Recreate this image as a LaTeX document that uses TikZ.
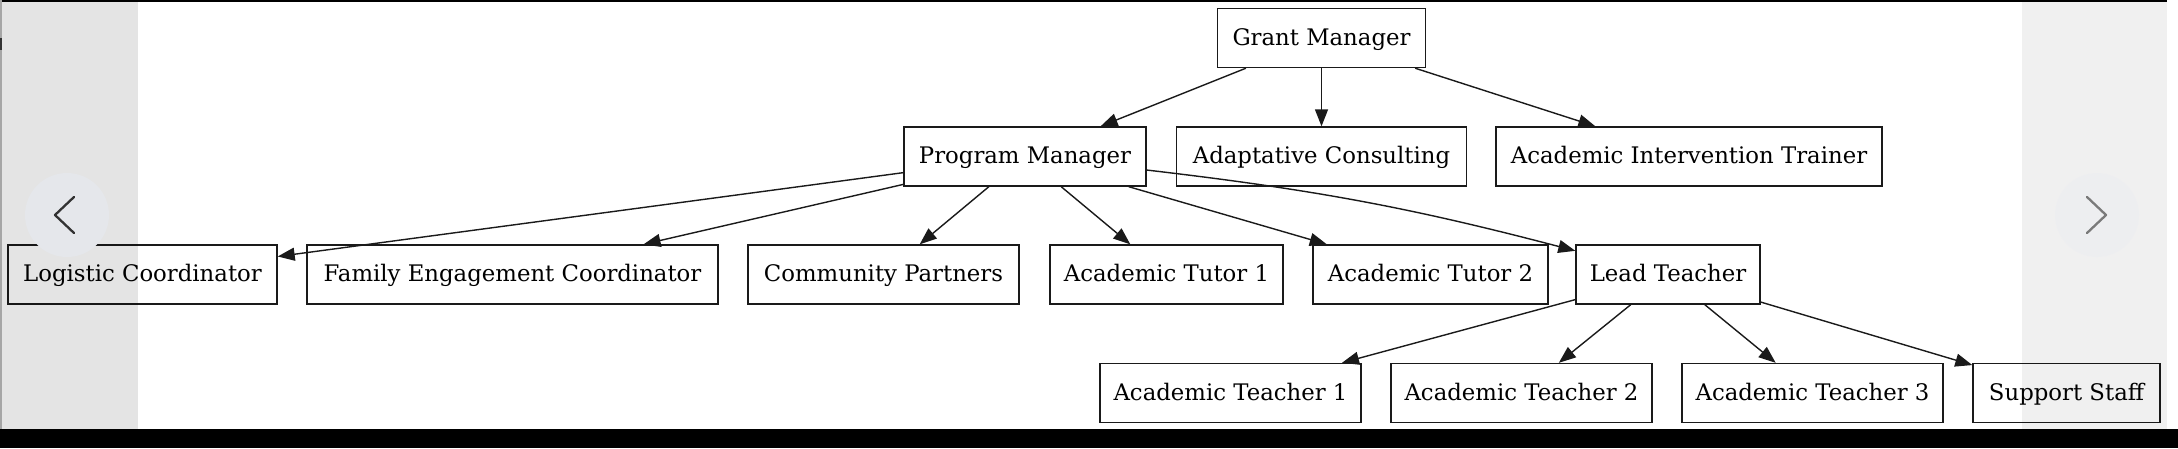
\documentclass[tikz,border=0pt]{standalone}
\usepackage{fontspec}
\setmainfont{DejaVu Serif}
\usetikzlibrary{arrows.meta}
\definecolor{edgecol}{HTML}{1A1A1A}
\definecolor{leftcirc}{HTML}{E5E7EB}
\definecolor{rightcirc}{HTML}{EDEEF0}
\definecolor{chevdark}{HTML}{333333}
\definecolor{chevlight}{HTML}{7A7A7A}
\tikzset{
  orgbox/.style={draw=edgecol, line width=1.4pt, fill=white, inner sep=0pt,
    minimum height=59pt, text height=18pt, text depth=4pt,
    font=\fontsize{22.8}{26}\selectfont, text=black},
  link/.style={draw=edgecol, line width=1.4pt, -{Triangle[length=17pt,width=13pt]}},
  chev/.style={line width=2.3pt, line cap=round, line join=round}
}
\begin{document}
\begin{tikzpicture}[x=1pt,y=-1pt]
\useasboundingbox (0,0) rectangle (2178,448);
\fill[white] (0,0) rectangle (2178,448);
% row 1
\node[orgbox, minimum width=208pt] (gm) at (1321.5,38) {Grant Manager};
% row 2
\node[orgbox, minimum width=242pt] (pm) at (1025,156.5) {Program Manager};
\node[orgbox, minimum width=290pt] (ac) at (1321.5,156.5) {Adaptative Consulting};
\node[orgbox, minimum width=386pt] (ait) at (1689,156.5) {Academic Intervention Trainer};
% row 3
\node[orgbox, minimum width=269pt] (lc) at (142.5,274.5) {Logistic Coordinator};
\node[orgbox, minimum width=411pt] (fec) at (512.5,274.5) {Family Engagement Coordinator};
\node[orgbox, minimum width=271pt] (cp) at (883.5,274.5) {Community Partners};
\node[orgbox, minimum width=233pt] (at1) at (1166.5,274.5) {Academic Tutor 1};
\node[orgbox, minimum width=235pt] (at2) at (1430.5,274.5) {Academic Tutor 2};
\node[orgbox, minimum width=184pt] (lt) at (1668,274.5) {Lead Teacher};
% row 4
\node[orgbox, minimum width=261pt] (ac1) at (1230.5,393) {Academic Teacher 1};
\node[orgbox, minimum width=261pt] (ac2) at (1521.5,393) {Academic Teacher 2};
\node[orgbox, minimum width=261pt] (ac3) at (1812.5,393) {Academic Teacher 3};
\node[orgbox, minimum width=187pt] (ss) at (2066.5,393) {Support Staff};
% edges
\draw[link] (gm) -- (pm);
\draw[link] (gm) -- (ac);
\draw[link] (gm) -- (ait);
\draw[link] (pm) -- (lc);
\draw[link] (pm) -- (fec);
\draw[link] (pm) -- (cp);
\draw[link] (pm) -- (at1);
\draw[link] (pm) -- (at2);
\draw[link] (pm) to[bend left=4] (lt);
\draw[link] (lt) -- (ac1);
\draw[link] (lt) -- (ac2);
\draw[link] (lt) -- (ac3);
\draw[link] (lt) -- (ss);
% carousel overlays
\fill[black, opacity=0.105] (0,2) rectangle (138,429);
\fill[black, opacity=0.06] (2022,2) rectangle (2167,429);
\fill[leftcirc] (67,215) circle (42);
\fill[rightcirc, opacity=0.7] (2097,215) circle (42);
\draw[chev, chevdark] (74,197) -- (55,215) -- (74,233);
\draw[chev, chevlight] (2087,197) -- (2106,215) -- (2087,233);
\fill[black] (0,0) rectangle (2167,2);
\fill[gray!70] (0,0) rectangle (2,429);
\fill[black!80] (0,38) rectangle (2,50);
\fill[black] (0,429) rectangle (2178,448);
\end{tikzpicture}
\end{document}
